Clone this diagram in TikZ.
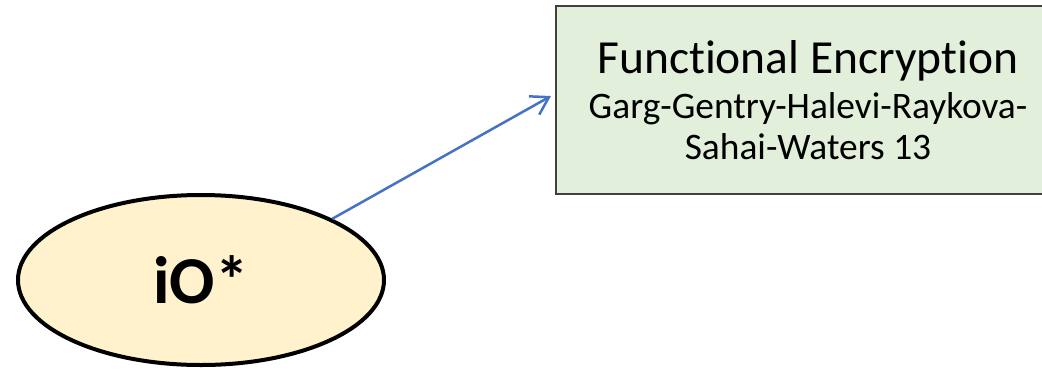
\documentclass[tikz,border=0pt]{standalone}
\usepackage{fontspec}
\setmainfont[Ligatures=NoCommon]{Carlito}
\usetikzlibrary{shapes.geometric,arrows.meta}
\definecolor{ellfill}{HTML}{FFF2CC}
\definecolor{boxfill}{HTML}{E2EFDA}
\definecolor{arrowblue}{HTML}{4472C4}
\definecolor{boxline}{HTML}{404040}
\tikzset{
  ellnode/.style={ellipse, draw=black, line width=4pt, fill=ellfill, minimum width=366pt, minimum height=170pt, inner sep=0pt, font=\fontsize{67}{70}\selectfont\bfseries},
  boxnode/.style={rectangle, draw=boxline, line width=1.5pt, fill=boxfill, minimum width=564pt, minimum height=188pt, inner sep=0pt, font=\fontsize{37.4}{41}\selectfont},
  conn/.style={draw=arrowblue, line width=2.5pt, -{Straight Barb[length=17pt,width=21pt,line width=2.5pt]}}
}
\begin{document}
\begin{tikzpicture}[x=1pt,y=-1pt]
\useasboundingbox (0,0) rectangle (1042,368);
\node[boxnode] (box) at (838,100) {\parbox{504pt}{\centering{\fontsize{47.5}{51}\selectfont Func\kern0pt tional Encryp\kern0pt tion\par}\vspace{4pt}Garg-Gentry-Halevi-Raykova-\\Sahai-Waters 13}\hspace*{60pt}};
\node[ellnode] (ell) at (201,280) {iO*};
\coordinate (tip) at (551,96);
\draw[conn] (ell.25) -- (tip);
\end{tikzpicture}
\end{document}
